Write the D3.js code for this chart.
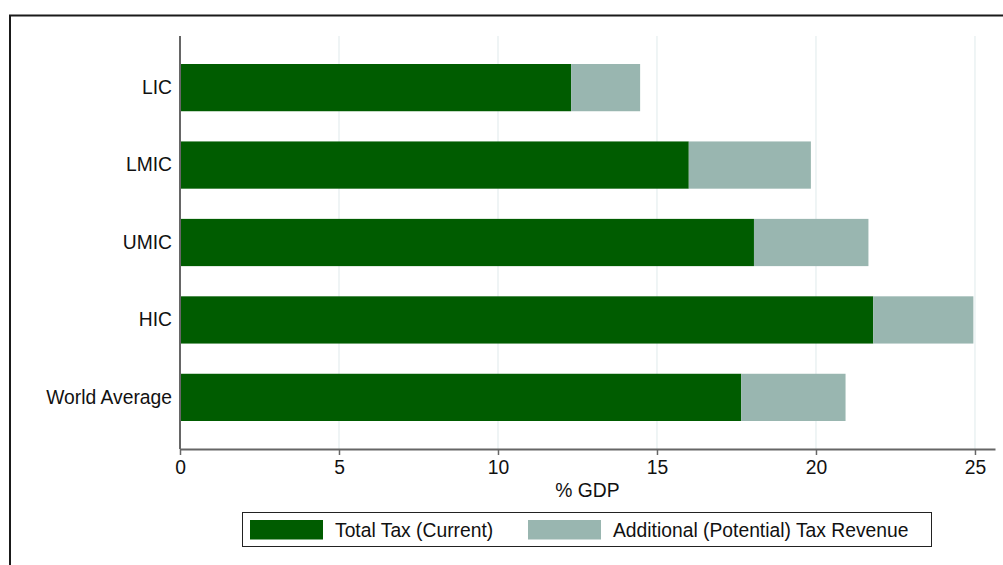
<!DOCTYPE html>
<html><head><meta charset="utf-8">
<script src="https://cdn.jsdelivr.net/npm/d3@7"></script>
<style>body{margin:0;background:#fff}svg{display:block}text{font-family:"Liberation Sans",Arial,Helvetica,sans-serif;fill:#111}</style>
</head><body>
<svg id="c" width="1003" height="565"></svg>
<script>
const categories = ["LIC","LMIC","UMIC","HIC","World Average"];
const currentTax = [12.3, 16.0, 18.05, 21.8, 17.65];
const additionalTax = [2.17, 3.84, 3.6, 3.15, 3.28];
const xTicks = [0,5,10,15,20,25];
const seriesNames = ["Total Tax (Current)","Additional (Potential) Tax Revenue"];
const colors = ["#005c00","#99b6b0"];
const fs = 19.3;

const svg = d3.select("#c");
// outer frame
svg.append("rect").attr("x",10).attr("y",15.5).attr("width",1100).attr("height",700)
  .attr("fill","none").attr("stroke","#1a1a1a").attr("stroke-width",2);

const x = d3.scaleLinear().domain([0,25.63]).range([180,995]);
const y = d3.scaleBand().domain(categories).range([64,421]).paddingInner(0.39).paddingOuter(0);
const plotTop = 36, plotBottom = 449;

// grid
svg.append("g").selectAll("line").data(xTicks.filter(d=>d>0)).join("line")
  .attr("x1",d=>x(d)).attr("x2",d=>x(d)).attr("y1",plotTop).attr("y2",plotBottom)
  .attr("stroke","#eaf1f2").attr("stroke-width",1.5);

const rows = categories.map((c,i)=>({c, a:currentTax[i], b:additionalTax[i]}));
svg.append("g").selectAll("rect").data(rows).join("rect")
  .attr("x",x(0)).attr("y",d=>y(d.c)).attr("width",d=>x(d.a)-x(0)).attr("height",y.bandwidth()).attr("fill",colors[0]);
svg.append("g").selectAll("rect").data(rows).join("rect")
  .attr("x",d=>x(d.a)).attr("y",d=>y(d.c)).attr("width",d=>x(d.a+d.b)-x(d.a)).attr("height",y.bandwidth()).attr("fill",colors[1]);

// x axis
const xa = svg.append("g").attr("transform",`translate(0,${plotBottom})`)
  .call(d3.axisBottom(x).tickValues(xTicks).tickSize(6).tickPadding(5).tickSizeOuter(0));
xa.select(".domain").attr("stroke","#666").attr("stroke-width",2);
xa.selectAll(".tick line").attr("stroke","#666").attr("stroke-width",1.5);
xa.selectAll("text").attr("font-size",fs).style("font-family","'Liberation Sans',Arial,sans-serif").attr("fill","#111");

// y axis
const ya = svg.append("g").attr("transform",`translate(180,0)`)
  .call(d3.axisLeft(y).tickSize(0).tickPadding(8));
ya.select(".domain").attr("d",`M0,${plotTop}V${plotBottom}`).attr("stroke","#666").attr("stroke-width",2);
ya.selectAll("text").attr("font-size",fs).style("font-family","'Liberation Sans',Arial,sans-serif").attr("fill","#111");

svg.append("text").attr("x",(180+995)/2).attr("y",497).attr("text-anchor","middle").attr("font-size",fs).text("% GDP");

// legend
const lg = svg.append("g");
lg.append("rect").attr("x",242.5).attr("y",512.5).attr("width",689).attr("height",34).attr("fill","#fff").attr("stroke","#222").attr("stroke-width",1);
const lx = [250, 528];
seriesNames.forEach((n,i)=>{
  lg.append("rect").attr("x",lx[i]).attr("y",520).attr("width",73).attr("height",19.5).attr("fill",colors[i]);
  lg.append("text").attr("x",lx[i]+85).attr("y",536.5).attr("font-size",fs).text(n);
});
</script>
</body></html>
